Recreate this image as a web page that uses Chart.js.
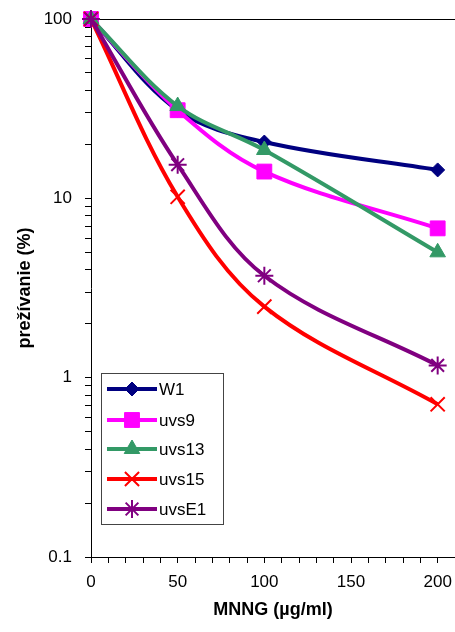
<!DOCTYPE html>
<html>
<head>
<meta charset="utf-8">
<script src="https://cdn.jsdelivr.net/npm/chart.js@4/dist/chart.umd.min.js"></script>
<style>
  html, body { margin: 0; padding: 0; background: #fff; }
  #wrap { width: 455px; height: 632px; }
</style>
</head>
<body>
<div id="wrap"><canvas id="survivalChart" width="455" height="632"></canvas></div>
<script>
// MNNG dose (µg/ml) and survival (%) per strain
const doses = [0, 50, 100, 200];
const w1 = [100, 31, 20.6, 14.4];
const uvs9 = [100, 31, 14.1, 6.8];
const uvs13 = [100, 32.7, 18.6, 5.0];
const uvs15 = [100, 10.2, 2.49, 0.71];
const uvsE1 = [100, 15.4, 3.7, 1.17];

const strainNames = ['W1', 'uvs9', 'uvs13', 'uvs15', 'uvsE1'];
const yTickLabels = [0.1, 1, 10, 100];
const xTickLabels = [0, 50, 100, 150, 200];

const FONT = '"Liberation Sans", Arial, sans-serif';

function pts(values) {
    return values.map((v, i) => ({ x: doses[i], y: v }));
}

function series(label, values, color, style, radius, order) {
    return {
        label: label,
        data: pts(values),
        borderColor: color,
        backgroundColor: color,
        borderWidth: 4,
        pointStyle: style,
        pointRadius: radius,
        pointHoverRadius: radius,
        pointBorderWidth: (style === 'crossRot' || style === 'star') ? 2 : 1,
        pointBorderColor: color,
        pointBackgroundColor: color,
        tension: 0.35,
        clip: false,
        order: order
    };
}

// legend box drawn like a spreadsheet legend: line sample with marker in the middle
const boxLegend = {
    id: 'boxLegend',
    afterDraw(chart) {
        const ctx = chart.ctx;
        const left = 101, top = 373, w = 122, h = 151;
        ctx.save();
        ctx.fillStyle = '#fff';
        ctx.fillRect(left, top, w, h);
        ctx.strokeStyle = '#444';
        ctx.lineWidth = 1;
        ctx.strokeRect(left + 0.5, top + 0.5, w, h);
        const rows = [389, 420, 449, 479, 509];
        chart.data.datasets.forEach((ds, i) => {
            const y = rows[i];
            ctx.strokeStyle = ds.borderColor;
            ctx.lineWidth = 4;
            ctx.beginPath();
            ctx.moveTo(107, y);
            ctx.lineTo(157, y);
            ctx.stroke();
            ctx.fillStyle = ds.pointBackgroundColor;
            ctx.strokeStyle = ds.pointBorderColor;
            ctx.lineWidth = ds.pointBorderWidth;
            Chart.helpers.drawPoint(ctx, {
                pointStyle: ds.pointStyle,
                radius: ds.pointRadius,
                rotation: 0,
                borderWidth: ds.pointBorderWidth
            }, 132, y);
            ctx.fillStyle = '#000';
            ctx.font = '17px ' + FONT;
            ctx.textBaseline = 'middle';
            ctx.textAlign = 'left';
            ctx.fillText(strainNames[i], 159, y + 1);
        });
        ctx.restore();
    }
};

new Chart(document.getElementById('survivalChart'), {
    type: 'line',
    data: {
        datasets: [
            series(strainNames[0], w1, '#000080', 'rectRot', 7, 4),
            series(strainNames[1], uvs9, '#ff00ff', 'rect', 10.5, 3),
            series(strainNames[2], uvs13, '#339966', 'triangle', 9, 2),
            series(strainNames[3], uvs15, '#ff0000', 'crossRot', 10, 1),
            series(strainNames[4], uvsE1, '#800080', 'star', 9, 0)
        ]
    },
    options: {
        responsive: false,
        animation: false,
        layout: { autoPadding: false, padding: { top: 19, right: 0, bottom: 0, left: 0 } },
        plugins: {
            legend: { display: false },
            tooltip: { enabled: false }
        },
        scales: {
            x: {
                type: 'linear',
                min: 0,
                max: 210,
                afterBuildTicks: (scale) => {
                    const t = [];
                    for (let v = 0; v <= 200; v += 10) t.push({ value: v });
                    scale.ticks = t;
                },
                afterFit: (scale) => {
                    scale.height = 75;
                    scale.paddingLeft = 0;
                    scale.paddingRight = 0;
                },
                ticks: {
                    autoSkip: false,
                    maxRotation: 0,
                    padding: 9,
                    color: '#000',
                    font: { family: FONT, size: 17 },
                    callback: (v) => xTickLabels.includes(v) ? String(v) : ''
                },
                grid: {
                    drawOnChartArea: false,
                    tickLength: 6,
                    tickColor: '#000'
                },
                border: { color: '#000', width: 1 },
                title: {
                    display: true,
                    text: 'MNNG (µg/ml)',
                    color: '#000',
                    font: { family: FONT, size: 18, weight: 'bold' },
                    padding: { top: 0, bottom: 11 }
                }
            },
            y: {
                type: 'logarithmic',
                min: 0.1,
                max: 100,
                afterBuildTicks: (scale) => {
                    const t = [];
                    for (let e = -1; e <= 1; e++) {
                        for (let m = 1; m <= 9; m++) t.push({ value: +(m * Math.pow(10, e)).toPrecision(3) });
                    }
                    t.push({ value: 100 });
                    scale.ticks = t;
                },
                afterFit: (scale) => {
                    scale.width = 91;
                    scale.paddingTop = 0;
                    scale.paddingBottom = 0;
                },
                ticks: {
                    autoSkip: false,
                    padding: 13,
                    color: '#000',
                    font: { family: FONT, size: 17 },
                    callback: (v) => yTickLabels.includes(v) ? String(v) : ''
                },
                grid: {
                    drawOnChartArea: true,
                    tickLength: 6,
                    color: (c) => (c.tick && c.tick.value === 100) ? '#000' : 'rgba(0,0,0,0)',
                    tickColor: '#000'
                },
                border: { color: '#000', width: 1 },
                title: {
                    display: true,
                    text: 'prežívanie (%)',
                    color: '#000',
                    font: { family: FONT, size: 18, weight: 'bold' },
                    padding: { top: 14, bottom: 0 }
                }
            }
        }
    },
    plugins: [boxLegend]
});
</script>
</body>
</html>
